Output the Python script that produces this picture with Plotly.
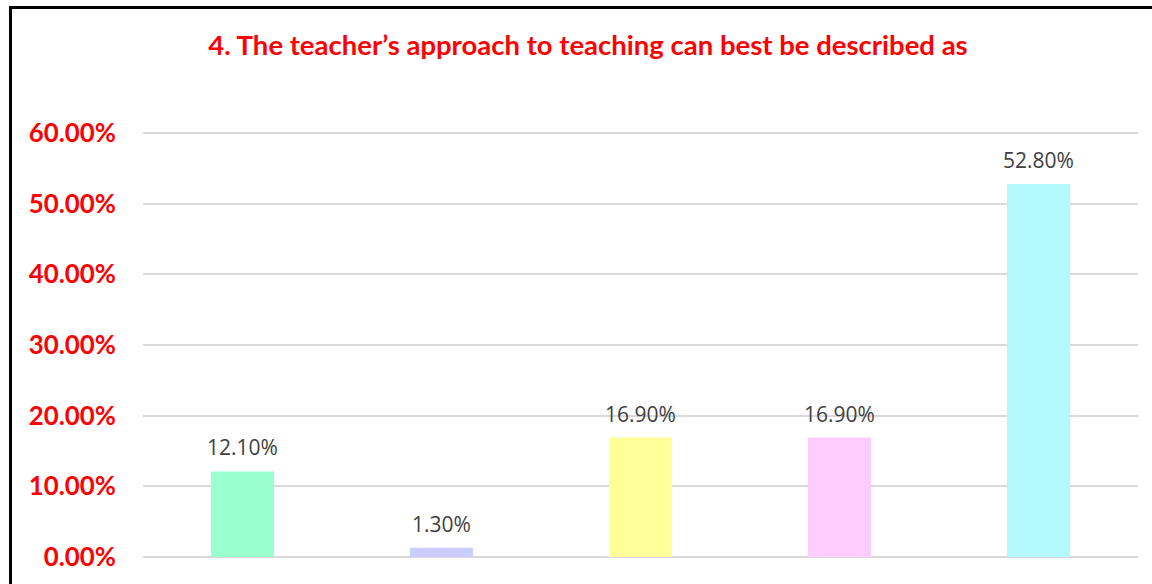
import plotly.graph_objects as go

# survey answers (category names are not visible in the picture)
categories = ["A", "B", "C", "D", "E"]
shares = [0.121, 0.013, 0.169, 0.169, 0.528]
labels = ["12.10%", "1.30%", "16.90%", "16.90%", "52.80%"]
colors = ["#99FFCC", "#CCCCFF", "#FFFF99", "#FFCCFF", "#B2F8FC"]

fig = go.Figure()

fig.add_trace(
    go.Bar(
        x=categories,
        y=shares,
        marker=dict(color=colors, line=dict(width=0)),
        width=0.317,
        hoverinfo="skip",
    )
)

# value labels above bars
for c, v, t in zip(categories, shares, labels):
    fig.add_annotation(
        x=c, y=v, text=t, showarrow=False,
        yanchor="bottom", yshift=8,
        font=dict(family="Open Sans", size=21, color="#404040"),
    )

# chart frame (partly cut off at right and bottom)
W, H = 1152, 584
l, r, t, b = 143, 14, 131, 25
pw, ph = W - l - r, H - t - b
fig.add_shape(
    type="rect", xref="paper", yref="paper",
    x0=(10.5 - l) / pw, x1=(1170 - l) / pw,
    y0=(H - b - 600) / ph, y1=(H - b - 7.5) / ph,
    line=dict(color="black", width=3),
)

fig.update_layout(
    width=W, height=H,
    margin=dict(l=l, r=r, t=t, b=b),
    plot_bgcolor="white",
    paper_bgcolor="white",
    showlegend=False,
    bargap=0.683,
    title=dict(
        text="<b>4. The teacher’s approach to teaching can best be described as</b>",
        x=588 / W, xref="container", xanchor="center",
        y=1 - 45 / H, yref="container", yanchor="middle",
        font=dict(family="Lato", size=27.5, color="#FF0000"),
    ),
)

fig.update_xaxes(showticklabels=False, showgrid=False, zeroline=False, ticks="")
fig.update_yaxes(
    range=[-0.003, 0.603], tickvals=[0, 0.1, 0.2, 0.3, 0.4, 0.5, 0.6],
    tickformat=".2%",
    showgrid=True, gridcolor="#D9D9D9", gridwidth=1.5,
    zeroline=False, showline=False,
    ticks="outside", ticklen=21, tickcolor="rgba(0,0,0,0)",
    tickfont=dict(family="Lato", size=25.8, color="#FF0000", weight="bold"),
)

fig.write_html(
    "out.html",
    config={"displayModeBar": False},
    post_script="document.body.style.margin='0';",
)
